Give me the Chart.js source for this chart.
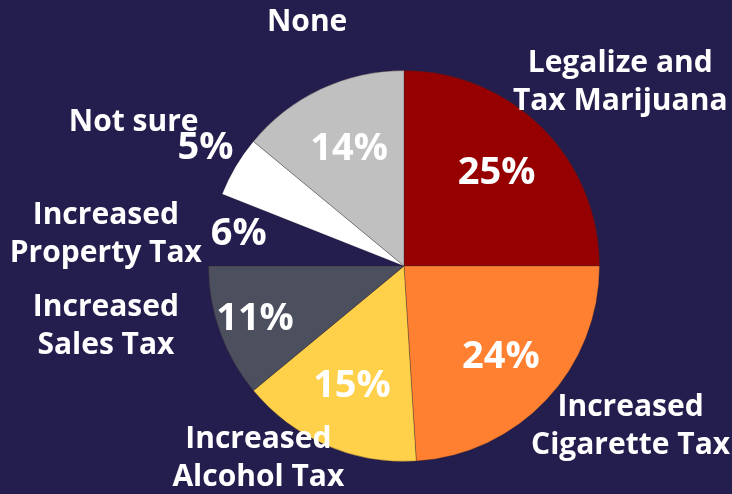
<!DOCTYPE html>
<html>
<head>
<meta charset="utf-8">
<script src="https://cdn.jsdelivr.net/npm/chart.js@4"></script>
<style>
  html, body { margin: 0; padding: 0; background: #241e4e; }
  canvas { display: block; }
</style>
</head>
<body>
<canvas id="myChart" width="732" height="494"></canvas>
<script>
// answers, clockwise from 12 o'clock
var categories = [
  ["Legalize and", "Tax Marijuana"],
  ["Increased", "Cigarette Tax"],
  ["Increased", "Alcohol Tax"],
  ["Increased", "Sales Tax"],
  ["Increased", "Property Tax"],
  ["Not sure"],
  ["None"]
];
var shares = [25, 24, 15, 11, 6, 5, 14];

var bgColor = "#241e4e";
var sliceColors = ["#960000", "#ff8030", "#ffd04a", "#4b4f5e", bgColor, "#ffffff", "#c0c0c0"];
var sliceBorders = [1, 1, 1, 1, 0, 0.5, 1];

// label placement: radius as a fraction of the pie radius, angle tweak in degrees
var pctRadius = [0.67, 0.68, 0.67, 0.81, 0.86, 1.18, 0.66];
var nameRadius = [1.45, 1.42, 1.235, 1.556, 1.534, 1.566, 1.34];
var nameTurn = [4.7, -7.9, 13.7, 8.3, -4.7, -2.6, 3.5];

var FONT = "'Open Sans', 'DejaVu Sans', sans-serif";

var sliceLabels = {
  id: "sliceLabels",
  afterDatasetsDraw: chart => {
    var ctx = chart.ctx;
    var meta = chart.getDatasetMeta(0);
    ctx.save();
    ctx.fillStyle = "#ffffff";
    ctx.textAlign = "center";
    ctx.textBaseline = "middle";
    meta.data.forEach((arc, i) => {
      var p = arc.getProps(["x", "y", "startAngle", "endAngle", "outerRadius"], true);
      var mid = (p.startAngle + p.endAngle) / 2;

      ctx.font = "bold 38px " + FONT;
      var r = p.outerRadius * pctRadius[i];
      ctx.fillText(shares[i] + "%", p.x + r * Math.cos(mid), p.y + r * Math.sin(mid));

      ctx.font = "bold 30px " + FONT;
      var a = mid + nameTurn[i] * Math.PI / 180;
      var rn = p.outerRadius * nameRadius[i];
      var cx = p.x + rn * Math.cos(a);
      var cy = p.y + rn * Math.sin(a);
      var lines = categories[i];
      var lh = 38;
      for (let j = 0; j < lines.length; j++) {
        ctx.fillText(lines[j], cx, cy + (j - (lines.length - 1) / 2) * lh);
      }
    });
    ctx.restore();
  }
};

var ctx = document.getElementById("myChart");
new Chart(ctx, {
  type: "pie",
  data: {
    labels: categories,
    datasets: [
      {
        data: shares,
        backgroundColor: sliceColors,
        borderColor: "rgba(60,40,40,0.35)",
        borderWidth: sliceBorders
      }
    ]
  },
  options: {
    responsive: false,
    animation: false,
    layout: { padding: { left: 208, right: 132, top: 70, bottom: 32 } },
    plugins: {
      legend: { display: false },
      tooltip: { enabled: false }
    }
  },
  plugins: [sliceLabels]
});
</script>
</body>
</html>
